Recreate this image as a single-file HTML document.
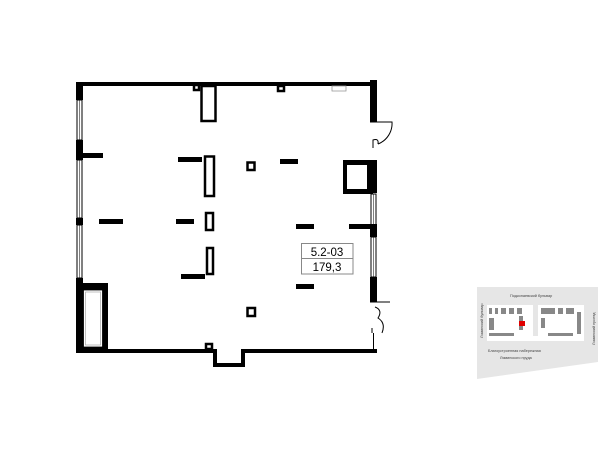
<!DOCTYPE html>
<html><head><meta charset="utf-8"><style>
html,body{margin:0;padding:0;background:#fff;width:600px;height:450px;overflow:hidden}
svg{display:block}
</style></head><body>
<svg width="600" height="450" viewBox="0 0 600 450" xmlns="http://www.w3.org/2000/svg" font-family="Liberation Sans, sans-serif">
<g fill="#000">
<rect x="76" y="82" width="301" height="4"/>
<rect x="76" y="82" width="7" height="18"/>
<rect x="76" y="140" width="7" height="20"/>
<rect x="76" y="153" width="27" height="5"/>
<rect x="76" y="218" width="7" height="7"/>
<rect x="76" y="278" width="7" height="75"/>
<rect x="76" y="283" width="32" height="70"/>
<rect x="76" y="349" width="138" height="4"/>
<rect x="213" y="349" width="4" height="18"/>
<rect x="213" y="363" width="32" height="4"/>
<rect x="241" y="353" width="4" height="14"/>
<rect x="241" y="349" width="136" height="4"/>
<rect x="370" y="80" width="7" height="42"/>
<rect x="367" y="160" width="10" height="33"/>
<rect x="343" y="160" width="30" height="34"/>
<rect x="370" y="225" width="7" height="12"/>
<rect x="349" y="224" width="28" height="5"/>
<rect x="370" y="277" width="7" height="25"/>
<rect x="178" y="157" width="24" height="5"/>
<rect x="280" y="159" width="18" height="5"/>
<rect x="99" y="219" width="24" height="5"/>
<rect x="176" y="219" width="18" height="5"/>
<rect x="296" y="224" width="18" height="5"/>
<rect x="181" y="274" width="24" height="5"/>
<rect x="296" y="284" width="18" height="5"/>
</g>
<g fill="#fff">
<rect x="83.5" y="290" width="19" height="57" stroke="#000" stroke-width="0.8"/>
<rect x="85.5" y="292" width="15" height="53" fill="none" stroke="#999" stroke-width="0.6"/>
<rect x="347" y="165" width="20" height="24"/>
</g>
<g fill="none" stroke="#000" stroke-width="1">
<rect x="77" y="100" width="5" height="40"/>
<rect x="77" y="160" width="5" height="58"/>
<rect x="77" y="225" width="5" height="53"/>
<line x1="79.5" y1="100" x2="79.5" y2="278" stroke-width="0.5"/>
<rect x="371" y="194" width="5" height="31"/>
<rect x="371" y="237" width="5" height="40"/>
<line x1="373.5" y1="194" x2="373.5" y2="277" stroke-width="0.5"/>
<line x1="373.5" y1="333" x2="373.5" y2="349"/>
<path d="M370 122 L392 122 A22 22 0 0 1 378 144"/>
<path d="M373 148 L373 140 Q379 138 378 144"/>
<path d="M370 302 L390 302"/>
<path d="M375 307 Q383 310 378 318 Q386 323 382 333"/>
<path d="M372 333 L372 328"/>
</g>
<g fill="#fff" stroke="#000" stroke-width="2.5">
<rect x="201.5" y="86" width="14" height="35"/>
<rect x="205" y="156.5" width="9" height="39.5"/>
<rect x="206" y="213" width="7" height="17"/>
<rect x="207" y="248" width="6" height="26"/>
<rect x="247.5" y="162.5" width="7" height="7.5"/>
<rect x="247.5" y="308" width="7.5" height="8"/>
<rect x="194" y="85" width="5" height="5"/>
<rect x="278" y="86" width="6" height="5"/>
<rect x="206" y="344" width="6" height="5"/>
</g>
<rect x="332" y="86" width="14" height="5" fill="#fff" stroke="#999" stroke-width="0.8"/>
<rect x="301.5" y="243.5" width="51.5" height="30.5" fill="#fff" stroke="#888" stroke-width="1"/>
<line x1="301.5" y1="258.5" x2="353" y2="258.5" stroke="#888" stroke-width="1"/>
<text x="327" y="256" font-size="11.5" text-anchor="middle" fill="#000">5.2-03</text>
<text x="327" y="271" font-size="11.5" text-anchor="middle" fill="#000">179,3</text>
<polygon points="477,287 598,287 598,362 477,379" fill="#e6e6e6"/>
<rect x="487" y="305" width="46" height="35" fill="#fff"/>
<rect x="538" y="305" width="46" height="35" fill="#fff"/>
<rect x="487" y="336" width="97" height="5" fill="#fff"/>
<g fill="#888">
<rect x="489" y="308" width="3" height="6"/><rect x="495" y="308" width="3" height="6"/><rect x="501" y="308" width="5" height="6"/><rect x="509" y="308" width="5" height="6"/><rect x="517" y="308" width="5" height="6"/>
<rect x="519" y="316" width="4" height="14"/><rect x="489" y="318" width="5" height="12"/><rect x="489" y="333" width="25" height="3"/>
<rect x="541" y="308" width="14" height="6"/><rect x="558" y="308" width="5" height="6"/><rect x="566" y="308" width="8" height="6"/><rect x="577" y="312" width="4" height="22"/>
<rect x="541" y="318" width="4" height="10"/><rect x="548" y="333" width="25" height="3"/>
</g>
<rect x="519" y="321" width="6" height="5" fill="#e00000"/>
<g font-size="3.8" fill="#444">
<text x="510" y="297">Подкопаевский бульвар</text>
<text x="488" y="352">Благоустроенная набережная</text>
<text x="500" y="359">Ляминского пруда</text>
<text transform="translate(483,338) rotate(-90)">Ляминский бульвар</text>
<text transform="translate(595,345) rotate(-90)">Ляминский проезд</text>
</g>
</svg>
</body></html>
